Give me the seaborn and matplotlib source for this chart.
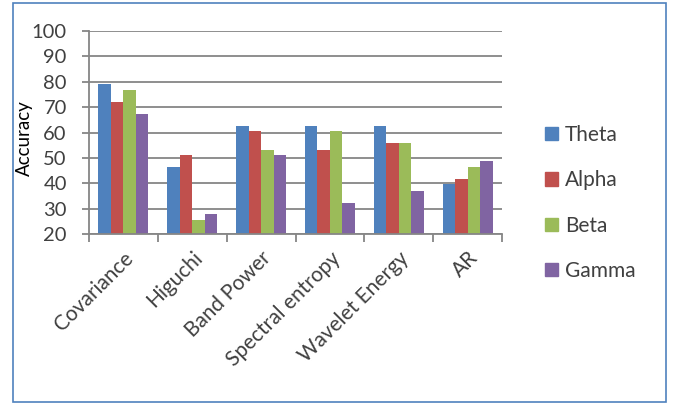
import numpy as np
import pandas as pd
import matplotlib
matplotlib.use("Agg")
import matplotlib.pyplot as plt
import seaborn as sns
from matplotlib.patches import Rectangle

sns.set_style("white")
plt.rcParams['font.family'] = ['Lato', 'DejaVu Sans']

features = ['Covariance', 'Higuchi', 'Band Power', 'Spectral entropy', 'Wavelet Energy', 'AR']
bands = ['Theta', 'Alpha', 'Beta', 'Gamma']
theta = [79.0, 46.5, 62.7, 62.7, 62.7, 39.6]
alpha = [72.0, 51.1, 60.6, 53.3, 55.7, 41.8]
beta = [76.7, 25.4, 53.3, 60.6, 55.7, 46.5]
gamma = [67.4, 28.0, 51.1, 32.4, 37.0, 48.8]
colors = ['#4F81BD', '#C0504D', '#9BBB59', '#8064A2']

df = pd.DataFrame({'Theta': theta, 'Alpha': alpha, 'Beta': beta, 'Gamma': gamma}, index=features)
long = df.reset_index().melt(id_vars='index', var_name='band', value_name='acc')

fig = plt.figure(figsize=(6.83, 4.05), dpi=100)
ax = fig.add_axes([89/683, 1-234/405, 413/683, 203/405])

sns.barplot(data=long, x='index', y='acc', hue='band', hue_order=bands,
            palette=colors, width=0.727, ax=ax, edgecolor='none', saturation=1,
            legend=True)

# Excel-style bars start from the axis floor
for p in ax.patches:
    h = p.get_height()
    p.set_y(20)
    p.set_height(h - 20)

grid = '#868686'
txt = '#404040'
ax.set_ylim(20, 100)
ax.set_xlim(-0.5, len(features) - 0.5)
ax.set_yticks(np.arange(20, 101, 10))
ax.yaxis.grid(True, color=grid, linewidth=1.3)
ax.set_axisbelow(True)
for s in ['top', 'right']:
    ax.spines[s].set_visible(False)
for s in ['left', 'bottom']:
    ax.spines[s].set_color(grid)
    ax.spines[s].set_linewidth(1.3)

ax.tick_params(axis='y', direction='out', length=5, width=1.3, color=grid,
               labelsize=14.5, labelcolor=txt, pad=11, left=True)
ax.set_xticks(np.arange(-0.5, len(features)), minor=True)
ax.tick_params(axis='x', which='minor', direction='out', length=6, width=1.3, color=grid, bottom=True)
ax.tick_params(axis='x', which='major', length=0, labelsize=15, labelcolor=txt, pad=10)
ax.set_xticks(range(len(features)))
ax.set_xticklabels(features, rotation=45, ha='right', rotation_mode='anchor')

ax.set_xlabel('')
ax.set_ylabel('Accuracy', fontsize=13.5, color='black', labelpad=0)
ax.yaxis.set_label_coords(-0.135, 0.47)

ax.get_legend().remove()
handles = [Rectangle((0, 0), 1, 1, color=c) for c in colors]
fig.legend(handles, bands, loc='upper left', bbox_to_anchor=(526/683, 1-106/405),
           frameon=False, fontsize=15, labelcolor=txt,
           handlelength=0.62, handleheight=0.62, handletextpad=0.35, labelspacing=1.22)

fig.patches.append(Rectangle((13/683, 1-402/405), 653/683, 399/405, transform=fig.transFigure,
                             fill=False, edgecolor='#4F81BD', linewidth=1.2))

fig.savefig('out.png', dpi=100)
